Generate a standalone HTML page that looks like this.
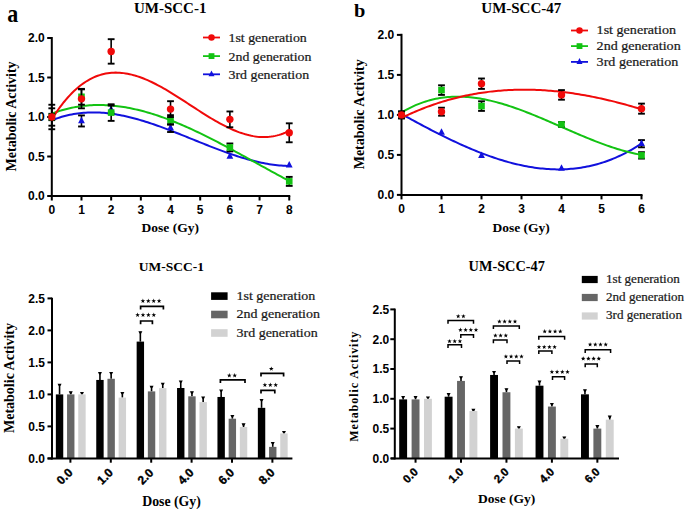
<!DOCTYPE html>
<html><head><meta charset="utf-8"><style>
html,body{margin:0;padding:0;background:#fff;}
svg{display:block;}
</style></head><body>
<svg width="685" height="511" viewBox="0 0 685 511">
<rect width="685" height="511" fill="#fff"/>
<line x1="51.80" y1="37.00" x2="51.80" y2="197.00" stroke="#000" stroke-width="2"/>
<line x1="50.80" y1="196.00" x2="290.24" y2="196.00" stroke="#000" stroke-width="2"/>
<line x1="47.20" y1="196.00" x2="51.80" y2="196.00" stroke="#000" stroke-width="2"/>
<text x="44.80" y="200.30" font-family="Liberation Sans" font-size="12" font-weight="bold" text-anchor="end" fill="#000" >0.0</text>
<line x1="47.20" y1="156.50" x2="51.80" y2="156.50" stroke="#000" stroke-width="2"/>
<text x="44.80" y="160.80" font-family="Liberation Sans" font-size="12" font-weight="bold" text-anchor="end" fill="#000" >0.5</text>
<line x1="47.20" y1="117.00" x2="51.80" y2="117.00" stroke="#000" stroke-width="2"/>
<text x="44.80" y="121.30" font-family="Liberation Sans" font-size="12" font-weight="bold" text-anchor="end" fill="#000" >1.0</text>
<line x1="47.20" y1="77.50" x2="51.80" y2="77.50" stroke="#000" stroke-width="2"/>
<text x="44.80" y="81.80" font-family="Liberation Sans" font-size="12" font-weight="bold" text-anchor="end" fill="#000" >1.5</text>
<line x1="47.20" y1="38.00" x2="51.80" y2="38.00" stroke="#000" stroke-width="2"/>
<text x="44.80" y="42.30" font-family="Liberation Sans" font-size="12" font-weight="bold" text-anchor="end" fill="#000" >2.0</text>
<line x1="51.80" y1="196.00" x2="51.80" y2="200.50" stroke="#000" stroke-width="2"/>
<text x="51.80" y="213.60" font-family="Liberation Sans" font-size="12" font-weight="bold" text-anchor="middle" fill="#000" >0</text>
<line x1="81.48" y1="196.00" x2="81.48" y2="200.50" stroke="#000" stroke-width="2"/>
<text x="81.48" y="213.60" font-family="Liberation Sans" font-size="12" font-weight="bold" text-anchor="middle" fill="#000" >1</text>
<line x1="111.16" y1="196.00" x2="111.16" y2="200.50" stroke="#000" stroke-width="2"/>
<text x="111.16" y="213.60" font-family="Liberation Sans" font-size="12" font-weight="bold" text-anchor="middle" fill="#000" >2</text>
<line x1="140.84" y1="196.00" x2="140.84" y2="200.50" stroke="#000" stroke-width="2"/>
<text x="140.84" y="213.60" font-family="Liberation Sans" font-size="12" font-weight="bold" text-anchor="middle" fill="#000" >3</text>
<line x1="170.52" y1="196.00" x2="170.52" y2="200.50" stroke="#000" stroke-width="2"/>
<text x="170.52" y="213.60" font-family="Liberation Sans" font-size="12" font-weight="bold" text-anchor="middle" fill="#000" >4</text>
<line x1="200.20" y1="196.00" x2="200.20" y2="200.50" stroke="#000" stroke-width="2"/>
<text x="200.20" y="213.60" font-family="Liberation Sans" font-size="12" font-weight="bold" text-anchor="middle" fill="#000" >5</text>
<line x1="229.88" y1="196.00" x2="229.88" y2="200.50" stroke="#000" stroke-width="2"/>
<text x="229.88" y="213.60" font-family="Liberation Sans" font-size="12" font-weight="bold" text-anchor="middle" fill="#000" >6</text>
<line x1="259.56" y1="196.00" x2="259.56" y2="200.50" stroke="#000" stroke-width="2"/>
<text x="259.56" y="213.60" font-family="Liberation Sans" font-size="12" font-weight="bold" text-anchor="middle" fill="#000" >7</text>
<line x1="289.24" y1="196.00" x2="289.24" y2="200.50" stroke="#000" stroke-width="2"/>
<text x="289.24" y="213.60" font-family="Liberation Sans" font-size="12" font-weight="bold" text-anchor="middle" fill="#000" >8</text>
<polyline points="51.80,120.32 53.80,119.53 55.79,118.79 57.79,118.09 59.78,117.43 61.78,116.82 63.77,116.25 65.77,115.73 67.76,115.24 69.76,114.80 71.75,114.40 73.75,114.03 75.74,113.71 77.74,113.42 79.73,113.17 81.73,112.95 83.72,112.78 85.72,112.64 87.72,112.53 89.71,112.46 91.71,112.42 93.70,112.41 95.70,112.44 97.69,112.50 99.69,112.59 101.68,112.71 103.68,112.85 105.67,113.03 107.67,113.24 109.66,113.47 111.66,113.73 113.65,114.02 115.65,114.33 117.64,114.67 119.64,115.04 121.64,115.42 123.63,115.83 125.63,116.26 127.62,116.72 129.62,117.19 131.61,117.69 133.61,118.20 135.60,118.74 137.60,119.29 139.59,119.86 141.59,120.45 143.58,121.06 145.58,121.68 147.57,122.31 149.57,122.97 151.56,123.63 153.56,124.31 155.56,125.00 157.55,125.70 159.55,126.42 161.54,127.14 163.54,127.88 165.53,128.62 167.53,129.38 169.52,130.14 171.52,130.91 173.51,131.68 175.51,132.46 177.50,133.25 179.50,134.04 181.49,134.84 183.49,135.64 185.48,136.44 187.48,137.25 189.48,138.06 191.47,138.86 193.47,139.67 195.46,140.48 197.46,141.29 199.45,142.09 201.45,142.89 203.44,143.69 205.44,144.49 207.43,145.28 209.43,146.07 211.42,146.85 213.42,147.63 215.41,148.39 217.41,149.15 219.40,149.91 221.40,150.65 223.40,151.38 225.39,152.11 227.39,152.82 229.38,153.52 231.38,154.21 233.37,154.89 235.37,155.55 237.36,156.20 239.36,156.84 241.35,157.46 243.35,158.06 245.34,158.65 247.34,159.22 249.33,159.77 251.33,160.30 253.32,160.81 255.32,161.31 257.32,161.78 259.31,162.23 261.31,162.66 263.30,163.07 265.30,163.45 267.29,163.81 269.29,164.15 271.28,164.46 273.28,164.74 275.27,165.00 277.27,165.23 279.26,165.44 281.26,165.61 283.25,165.76 285.25,165.87 287.24,165.96 289.24,166.02" fill="none" stroke="#1111dd" stroke-width="2"/>
<polyline points="51.80,113.65 53.80,112.90 55.79,112.19 57.79,111.52 59.78,110.88 61.78,110.28 63.77,109.71 65.77,109.18 67.76,108.68 69.76,108.21 71.75,107.78 73.75,107.38 75.74,107.01 77.74,106.68 79.73,106.37 81.73,106.10 83.72,105.86 85.72,105.65 87.72,105.47 89.71,105.32 91.71,105.20 93.70,105.11 95.70,105.05 97.69,105.02 99.69,105.01 101.68,105.04 103.68,105.09 105.67,105.17 107.67,105.27 109.66,105.40 111.66,105.56 113.65,105.74 115.65,105.95 117.64,106.18 119.64,106.44 121.64,106.73 123.63,107.03 125.63,107.36 127.62,107.72 129.62,108.09 131.61,108.49 133.61,108.91 135.60,109.36 137.60,109.82 139.59,110.31 141.59,110.81 143.58,111.34 145.58,111.89 147.57,112.45 149.57,113.04 151.56,113.65 153.56,114.27 155.56,114.91 157.55,115.57 159.55,116.25 161.54,116.94 163.54,117.66 165.53,118.38 167.53,119.13 169.52,119.89 171.52,120.66 173.51,121.46 175.51,122.26 177.50,123.08 179.50,123.91 181.49,124.76 183.49,125.62 185.48,126.50 187.48,127.38 189.48,128.28 191.47,129.19 193.47,130.11 195.46,131.05 197.46,131.99 199.45,132.95 201.45,133.91 203.44,134.89 205.44,135.87 207.43,136.86 209.43,137.86 211.42,138.87 213.42,139.89 215.41,140.92 217.41,141.95 219.40,142.99 221.40,144.03 223.40,145.09 225.39,146.15 227.39,147.21 229.38,148.28 231.38,149.35 233.37,150.43 235.37,151.51 237.36,152.60 239.36,153.69 241.35,154.78 243.35,155.87 245.34,156.97 247.34,158.07 249.33,159.17 251.33,160.27 253.32,161.37 255.32,162.48 257.32,163.58 259.31,164.68 261.31,165.78 263.30,166.88 265.30,167.99 267.29,169.08 269.29,170.18 271.28,171.27 273.28,172.37 275.27,173.45 277.27,174.54 279.26,175.62 281.26,176.70 283.25,177.77 285.25,178.84 287.24,179.90 289.24,180.96" fill="none" stroke="#13c313" stroke-width="2"/>
<polyline points="51.80,119.38 53.80,116.20 55.79,113.16 57.79,110.25 59.78,107.46 61.78,104.79 63.77,102.25 65.77,99.83 67.76,97.52 69.76,95.33 71.75,93.25 73.75,91.29 75.74,89.44 77.74,87.69 79.73,86.05 81.73,84.52 83.72,83.09 85.72,81.76 87.72,80.53 89.71,79.39 91.71,78.35 93.70,77.41 95.70,76.55 97.69,75.79 99.69,75.11 101.68,74.52 103.68,74.01 105.67,73.59 107.67,73.24 109.66,72.97 111.66,72.78 113.65,72.66 115.65,72.62 117.64,72.64 119.64,72.74 121.64,72.90 123.63,73.12 125.63,73.41 127.62,73.76 129.62,74.17 131.61,74.64 133.61,75.16 135.60,75.73 137.60,76.36 139.59,77.04 141.59,77.76 143.58,78.53 145.58,79.35 147.57,80.20 149.57,81.10 151.56,82.03 153.56,83.00 155.56,84.01 157.55,85.05 159.55,86.12 161.54,87.21 163.54,88.34 165.53,89.49 167.53,90.66 169.52,91.86 171.52,93.07 173.51,94.30 175.51,95.55 177.50,96.81 179.50,98.08 181.49,99.36 183.49,100.65 185.48,101.95 187.48,103.25 189.48,104.55 191.47,105.85 193.47,107.16 195.46,108.45 197.46,109.75 199.45,111.03 201.45,112.31 203.44,113.57 205.44,114.83 207.43,116.07 209.43,117.29 211.42,118.49 213.42,119.67 215.41,120.83 217.41,121.97 219.40,123.08 221.40,124.16 223.40,125.21 225.39,126.23 227.39,127.22 229.38,128.17 231.38,129.09 233.37,129.96 235.37,130.79 237.36,131.58 239.36,132.33 241.35,133.02 243.35,133.67 245.34,134.27 247.34,134.82 249.33,135.31 251.33,135.74 253.32,136.12 255.32,136.44 257.32,136.69 259.31,136.88 261.31,137.00 263.30,137.06 265.30,137.05 267.29,136.96 269.29,136.80 271.28,136.57 273.28,136.26 275.27,135.87 277.27,135.40 279.26,134.84 281.26,134.20 283.25,133.48 285.25,132.66 287.24,131.76 289.24,130.76" fill="none" stroke="#f00a0a" stroke-width="2"/>
<line x1="51.80" y1="113.84" x2="51.80" y2="120.16" stroke="#000" stroke-width="1.6"/>
<line x1="48.40" y1="113.84" x2="55.20" y2="113.84" stroke="#000" stroke-width="1.9"/>
<line x1="48.40" y1="120.16" x2="55.20" y2="120.16" stroke="#000" stroke-width="1.9"/>
<line x1="81.48" y1="115.42" x2="81.48" y2="126.48" stroke="#000" stroke-width="1.6"/>
<line x1="78.08" y1="115.42" x2="84.88" y2="115.42" stroke="#000" stroke-width="1.9"/>
<line x1="78.08" y1="126.48" x2="84.88" y2="126.48" stroke="#000" stroke-width="1.9"/>
<line x1="111.16" y1="105.55" x2="111.16" y2="113.45" stroke="#000" stroke-width="1.6"/>
<line x1="107.76" y1="105.55" x2="114.56" y2="105.55" stroke="#000" stroke-width="1.9"/>
<line x1="107.76" y1="113.45" x2="114.56" y2="113.45" stroke="#000" stroke-width="1.9"/>
<line x1="170.52" y1="124.11" x2="170.52" y2="132.01" stroke="#000" stroke-width="1.6"/>
<line x1="167.12" y1="124.11" x2="173.92" y2="124.11" stroke="#000" stroke-width="1.9"/>
<line x1="167.12" y1="132.01" x2="173.92" y2="132.01" stroke="#000" stroke-width="1.9"/>
<polygon points="51.80,112.70 55.20,119.30 48.40,119.30" fill="#1111dd"/>
<polygon points="81.48,116.65 84.88,123.25 78.08,123.25" fill="#1111dd"/>
<polygon points="111.16,105.20 114.56,111.80 107.76,111.80" fill="#1111dd"/>
<polygon points="170.52,123.76 173.92,130.36 167.12,130.36" fill="#1111dd"/>
<polygon points="229.88,152.20 233.28,158.80 226.48,158.80" fill="#1111dd"/>
<polygon points="289.24,160.89 292.64,167.49 285.84,167.49" fill="#1111dd"/>
<line x1="51.80" y1="108.31" x2="51.80" y2="125.69" stroke="#000" stroke-width="1.6"/>
<line x1="48.40" y1="108.31" x2="55.20" y2="108.31" stroke="#000" stroke-width="1.9"/>
<line x1="48.40" y1="125.69" x2="55.20" y2="125.69" stroke="#000" stroke-width="1.9"/>
<line x1="81.48" y1="88.88" x2="81.48" y2="104.68" stroke="#000" stroke-width="1.6"/>
<line x1="78.08" y1="88.88" x2="84.88" y2="88.88" stroke="#000" stroke-width="1.9"/>
<line x1="78.08" y1="104.68" x2="84.88" y2="104.68" stroke="#000" stroke-width="1.9"/>
<line x1="111.16" y1="104.28" x2="111.16" y2="120.87" stroke="#000" stroke-width="1.6"/>
<line x1="107.76" y1="104.28" x2="114.56" y2="104.28" stroke="#000" stroke-width="1.9"/>
<line x1="107.76" y1="120.87" x2="114.56" y2="120.87" stroke="#000" stroke-width="1.9"/>
<line x1="170.52" y1="115.18" x2="170.52" y2="124.66" stroke="#000" stroke-width="1.6"/>
<line x1="167.12" y1="115.18" x2="173.92" y2="115.18" stroke="#000" stroke-width="1.9"/>
<line x1="167.12" y1="124.66" x2="173.92" y2="124.66" stroke="#000" stroke-width="1.9"/>
<line x1="229.88" y1="143.47" x2="229.88" y2="151.37" stroke="#000" stroke-width="1.6"/>
<line x1="226.48" y1="143.47" x2="233.28" y2="143.47" stroke="#000" stroke-width="1.9"/>
<line x1="226.48" y1="151.37" x2="233.28" y2="151.37" stroke="#000" stroke-width="1.9"/>
<line x1="289.24" y1="176.88" x2="289.24" y2="185.89" stroke="#000" stroke-width="1.6"/>
<line x1="285.84" y1="176.88" x2="292.64" y2="176.88" stroke="#000" stroke-width="1.9"/>
<line x1="285.84" y1="185.89" x2="292.64" y2="185.89" stroke="#000" stroke-width="1.9"/>
<rect x="48.50" y="113.70" width="6.60" height="6.60" fill="#13c313"/>
<rect x="78.18" y="93.48" width="6.60" height="6.60" fill="#13c313"/>
<rect x="107.86" y="109.28" width="6.60" height="6.60" fill="#13c313"/>
<rect x="167.22" y="116.62" width="6.60" height="6.60" fill="#13c313"/>
<rect x="226.58" y="144.11" width="6.60" height="6.60" fill="#13c313"/>
<rect x="285.94" y="178.08" width="6.60" height="6.60" fill="#13c313"/>
<line x1="51.80" y1="104.75" x2="51.80" y2="129.25" stroke="#000" stroke-width="1.6"/>
<line x1="48.40" y1="104.75" x2="55.20" y2="104.75" stroke="#000" stroke-width="1.9"/>
<line x1="48.40" y1="129.25" x2="55.20" y2="129.25" stroke="#000" stroke-width="1.9"/>
<line x1="81.48" y1="89.35" x2="81.48" y2="108.31" stroke="#000" stroke-width="1.6"/>
<line x1="78.08" y1="89.35" x2="84.88" y2="89.35" stroke="#000" stroke-width="1.9"/>
<line x1="78.08" y1="108.31" x2="84.88" y2="108.31" stroke="#000" stroke-width="1.9"/>
<line x1="111.16" y1="39.19" x2="111.16" y2="63.67" stroke="#000" stroke-width="1.6"/>
<line x1="107.76" y1="39.19" x2="114.56" y2="39.19" stroke="#000" stroke-width="1.9"/>
<line x1="107.76" y1="63.67" x2="114.56" y2="63.67" stroke="#000" stroke-width="1.9"/>
<line x1="170.52" y1="101.20" x2="170.52" y2="117.00" stroke="#000" stroke-width="1.6"/>
<line x1="167.12" y1="101.20" x2="173.92" y2="101.20" stroke="#000" stroke-width="1.9"/>
<line x1="167.12" y1="117.00" x2="173.92" y2="117.00" stroke="#000" stroke-width="1.9"/>
<line x1="229.88" y1="111.47" x2="229.88" y2="127.27" stroke="#000" stroke-width="1.6"/>
<line x1="226.48" y1="111.47" x2="233.28" y2="111.47" stroke="#000" stroke-width="1.9"/>
<line x1="226.48" y1="127.27" x2="233.28" y2="127.27" stroke="#000" stroke-width="1.9"/>
<line x1="289.24" y1="123.32" x2="289.24" y2="142.28" stroke="#000" stroke-width="1.6"/>
<line x1="285.84" y1="123.32" x2="292.64" y2="123.32" stroke="#000" stroke-width="1.9"/>
<line x1="285.84" y1="142.28" x2="292.64" y2="142.28" stroke="#000" stroke-width="1.9"/>
<circle cx="51.80" cy="117.00" r="3.70" fill="#f00a0a"/>
<circle cx="81.48" cy="98.83" r="3.70" fill="#f00a0a"/>
<circle cx="111.16" cy="51.43" r="3.70" fill="#f00a0a"/>
<circle cx="170.52" cy="109.10" r="3.70" fill="#f00a0a"/>
<circle cx="229.88" cy="119.37" r="3.70" fill="#f00a0a"/>
<circle cx="289.24" cy="132.80" r="3.70" fill="#f00a0a"/>
<line x1="203.00" y1="37.50" x2="220.00" y2="37.50" stroke="#f00a0a" stroke-width="1.8"/>
<circle cx="211.50" cy="37.50" r="3.26" fill="#f00a0a"/>
<text x="0.00" y="0.00" font-family="Liberation Serif" font-size="13.9" font-weight="normal" text-anchor="start" fill="#1a1a1a" stroke="#1a1a1a" stroke-width="0.25" transform="translate(228.50 41.80) scale(1 0.92)">1st generation</text>
<line x1="203.00" y1="56.10" x2="220.00" y2="56.10" stroke="#13c313" stroke-width="1.8"/>
<rect x="208.60" y="53.20" width="5.81" height="5.81" fill="#13c313"/>
<text x="0.00" y="0.00" font-family="Liberation Serif" font-size="13.9" font-weight="normal" text-anchor="start" fill="#1a1a1a" stroke="#1a1a1a" stroke-width="0.25" transform="translate(228.50 60.50) scale(1 0.92)">2nd generation</text>
<line x1="203.00" y1="74.30" x2="220.00" y2="74.30" stroke="#1111dd" stroke-width="1.8"/>
<polygon points="211.50,70.52 214.49,76.32 208.51,76.32" fill="#1111dd"/>
<text x="0.00" y="0.00" font-family="Liberation Serif" font-size="13.9" font-weight="normal" text-anchor="start" fill="#1a1a1a" stroke="#1a1a1a" stroke-width="0.25" transform="translate(228.50 78.90) scale(1 0.92)">3rd generation</text>
<text x="170.20" y="12.80" font-family="Liberation Serif" font-size="15" font-weight="bold" text-anchor="middle" fill="#000" >UM-SCC-1</text>
<text x="0.00" y="0.00" font-family="Liberation Serif" font-size="25" font-weight="bold" text-anchor="start" fill="#000" transform="translate(7.3 21.5) scale(0.88 1)">a</text>
<text x="16.00" y="116.40" font-family="Liberation Serif" font-size="13.8" font-weight="bold" text-anchor="middle" fill="#000" transform="rotate(-90 16.00 116.40)" textLength="110" lengthAdjust="spacingAndGlyphs">Metabolic Activity</text>
<text x="170.30" y="232.10" font-family="Liberation Serif" font-size="13.5" font-weight="bold" text-anchor="middle" fill="#000" >Dose (Gy)</text>
<line x1="401.50" y1="33.80" x2="401.50" y2="195.90" stroke="#000" stroke-width="2"/>
<line x1="400.50" y1="194.90" x2="642.50" y2="194.90" stroke="#000" stroke-width="2"/>
<line x1="396.90" y1="194.90" x2="401.50" y2="194.90" stroke="#000" stroke-width="2"/>
<text x="394.30" y="199.20" font-family="Liberation Sans" font-size="12" font-weight="bold" text-anchor="end" fill="#000" >0.0</text>
<line x1="396.90" y1="154.90" x2="401.50" y2="154.90" stroke="#000" stroke-width="2"/>
<text x="394.30" y="159.20" font-family="Liberation Sans" font-size="12" font-weight="bold" text-anchor="end" fill="#000" >0.5</text>
<line x1="396.90" y1="114.90" x2="401.50" y2="114.90" stroke="#000" stroke-width="2"/>
<text x="394.30" y="119.20" font-family="Liberation Sans" font-size="12" font-weight="bold" text-anchor="end" fill="#000" >1.0</text>
<line x1="396.90" y1="74.90" x2="401.50" y2="74.90" stroke="#000" stroke-width="2"/>
<text x="394.30" y="79.20" font-family="Liberation Sans" font-size="12" font-weight="bold" text-anchor="end" fill="#000" >1.5</text>
<line x1="396.90" y1="34.90" x2="401.50" y2="34.90" stroke="#000" stroke-width="2"/>
<text x="394.30" y="39.20" font-family="Liberation Sans" font-size="12" font-weight="bold" text-anchor="end" fill="#000" >2.0</text>
<line x1="401.50" y1="194.90" x2="401.50" y2="199.40" stroke="#000" stroke-width="2"/>
<text x="401.50" y="212.50" font-family="Liberation Sans" font-size="12" font-weight="bold" text-anchor="middle" fill="#000" >0</text>
<line x1="441.50" y1="194.90" x2="441.50" y2="199.40" stroke="#000" stroke-width="2"/>
<text x="441.50" y="212.50" font-family="Liberation Sans" font-size="12" font-weight="bold" text-anchor="middle" fill="#000" >1</text>
<line x1="481.50" y1="194.90" x2="481.50" y2="199.40" stroke="#000" stroke-width="2"/>
<text x="481.50" y="212.50" font-family="Liberation Sans" font-size="12" font-weight="bold" text-anchor="middle" fill="#000" >2</text>
<line x1="521.50" y1="194.90" x2="521.50" y2="199.40" stroke="#000" stroke-width="2"/>
<text x="521.50" y="212.50" font-family="Liberation Sans" font-size="12" font-weight="bold" text-anchor="middle" fill="#000" >3</text>
<line x1="561.50" y1="194.90" x2="561.50" y2="199.40" stroke="#000" stroke-width="2"/>
<text x="561.50" y="212.50" font-family="Liberation Sans" font-size="12" font-weight="bold" text-anchor="middle" fill="#000" >4</text>
<line x1="601.50" y1="194.90" x2="601.50" y2="199.40" stroke="#000" stroke-width="2"/>
<text x="601.50" y="212.50" font-family="Liberation Sans" font-size="12" font-weight="bold" text-anchor="middle" fill="#000" >5</text>
<line x1="641.50" y1="194.90" x2="641.50" y2="199.40" stroke="#000" stroke-width="2"/>
<text x="641.50" y="212.50" font-family="Liberation Sans" font-size="12" font-weight="bold" text-anchor="middle" fill="#000" >6</text>
<polyline points="401.50,114.04 403.52,115.15 405.53,116.26 407.55,117.37 409.57,118.47 411.58,119.57 413.60,120.66 415.62,121.75 417.63,122.84 419.65,123.92 421.67,125.00 423.68,126.07 425.70,127.13 427.72,128.19 429.74,129.24 431.75,130.29 433.77,131.33 435.79,132.36 437.80,133.39 439.82,134.40 441.84,135.41 443.85,136.41 445.87,137.40 447.89,138.38 449.90,139.36 451.92,140.32 453.94,141.27 455.95,142.21 457.97,143.15 459.99,144.07 462.00,144.98 464.02,145.87 466.04,146.76 468.05,147.63 470.07,148.50 472.09,149.35 474.11,150.18 476.12,151.00 478.14,151.81 480.16,152.61 482.17,153.39 484.19,154.15 486.21,154.90 488.22,155.64 490.24,156.36 492.26,157.06 494.27,157.75 496.29,158.42 498.31,159.08 500.32,159.71 502.34,160.33 504.36,160.94 506.37,161.52 508.39,162.09 510.41,162.64 512.42,163.16 514.44,163.67 516.46,164.16 518.47,164.63 520.49,165.08 522.51,165.51 524.53,165.92 526.54,166.31 528.56,166.67 530.58,167.02 532.59,167.34 534.61,167.64 536.63,167.92 538.64,168.17 540.66,168.40 542.68,168.61 544.69,168.79 546.71,168.95 548.73,169.09 550.74,169.20 552.76,169.29 554.78,169.34 556.79,169.38 558.81,169.39 560.83,169.37 562.84,169.32 564.86,169.25 566.88,169.15 568.89,169.03 570.91,168.87 572.93,168.69 574.95,168.48 576.96,168.24 578.98,167.97 581.00,167.67 583.01,167.34 585.03,166.99 587.05,166.60 589.06,166.18 591.08,165.73 593.10,165.25 595.11,164.74 597.13,164.19 599.15,163.61 601.16,163.00 603.18,162.36 605.20,161.69 607.21,160.98 609.23,160.24 611.25,159.46 613.26,158.65 615.28,157.81 617.30,156.93 619.32,156.01 621.33,155.06 623.35,154.07 625.37,153.05 627.38,151.99 629.40,150.89 631.42,149.76 633.43,148.59 635.45,147.38 637.47,146.14 639.48,144.85 641.50,143.53" fill="none" stroke="#1111dd" stroke-width="2"/>
<polyline points="401.50,112.48 403.52,111.29 405.53,110.15 407.55,109.06 409.57,108.02 411.58,107.03 413.60,106.09 415.62,105.20 417.63,104.36 419.65,103.56 421.67,102.82 423.68,102.12 425.70,101.46 427.72,100.85 429.74,100.29 431.75,99.76 433.77,99.29 435.79,98.85 437.80,98.46 439.82,98.10 441.84,97.79 443.85,97.51 445.87,97.28 447.89,97.08 449.90,96.93 451.92,96.80 453.94,96.72 455.95,96.67 457.97,96.66 459.99,96.67 462.00,96.73 464.02,96.81 466.04,96.93 468.05,97.08 470.07,97.27 472.09,97.48 474.11,97.72 476.12,97.99 478.14,98.29 480.16,98.61 482.17,98.97 484.19,99.35 486.21,99.75 488.22,100.18 490.24,100.64 492.26,101.11 494.27,101.61 496.29,102.14 498.31,102.68 500.32,103.25 502.34,103.83 504.36,104.44 506.37,105.06 508.39,105.71 510.41,106.37 512.42,107.04 514.44,107.74 516.46,108.45 518.47,109.17 520.49,109.91 522.51,110.66 524.53,111.42 526.54,112.20 528.56,112.99 530.58,113.79 532.59,114.60 534.61,115.42 536.63,116.24 538.64,117.08 540.66,117.92 542.68,118.77 544.69,119.63 546.71,120.49 548.73,121.36 550.74,122.23 552.76,123.10 554.78,123.98 556.79,124.86 558.81,125.74 560.83,126.62 562.84,127.51 564.86,128.39 566.88,129.27 568.89,130.15 570.91,131.02 572.93,131.90 574.95,132.76 576.96,133.63 578.98,134.49 581.00,135.34 583.01,136.19 585.03,137.03 587.05,137.86 589.06,138.68 591.08,139.50 593.10,140.30 595.11,141.10 597.13,141.88 599.15,142.65 601.16,143.41 603.18,144.15 605.20,144.88 607.21,145.60 609.23,146.30 611.25,146.98 613.26,147.65 615.28,148.30 617.30,148.94 619.32,149.55 621.33,150.15 623.35,150.72 625.37,151.28 627.38,151.81 629.40,152.32 631.42,152.81 633.43,153.28 635.45,153.72 637.47,154.14 639.48,154.53 641.50,154.90" fill="none" stroke="#13c313" stroke-width="2"/>
<polyline points="401.50,117.94 403.52,116.96 405.53,116.00 407.55,115.06 409.57,114.14 411.58,113.24 413.60,112.35 415.62,111.49 417.63,110.64 419.65,109.81 421.67,109.00 423.68,108.21 425.70,107.43 427.72,106.68 429.74,105.94 431.75,105.22 433.77,104.52 435.79,103.83 437.80,103.16 439.82,102.51 441.84,101.88 443.85,101.26 445.87,100.67 447.89,100.08 449.90,99.52 451.92,98.97 453.94,98.44 455.95,97.93 457.97,97.43 459.99,96.95 462.00,96.48 464.02,96.03 466.04,95.60 468.05,95.18 470.07,94.78 472.09,94.40 474.11,94.03 476.12,93.67 478.14,93.34 480.16,93.01 482.17,92.71 484.19,92.42 486.21,92.14 488.22,91.88 490.24,91.63 492.26,91.40 494.27,91.19 496.29,90.99 498.31,90.80 500.32,90.63 502.34,90.47 504.36,90.33 506.37,90.20 508.39,90.08 510.41,89.98 512.42,89.90 514.44,89.82 516.46,89.76 518.47,89.72 520.49,89.69 522.51,89.67 524.53,89.67 526.54,89.68 528.56,89.70 530.58,89.73 532.59,89.78 534.61,89.84 536.63,89.92 538.64,90.01 540.66,90.11 542.68,90.22 544.69,90.34 546.71,90.48 548.73,90.63 550.74,90.79 552.76,90.97 554.78,91.16 556.79,91.35 558.81,91.56 560.83,91.79 562.84,92.02 564.86,92.27 566.88,92.52 568.89,92.79 570.91,93.07 572.93,93.36 574.95,93.66 576.96,93.98 578.98,94.30 581.00,94.64 583.01,94.98 585.03,95.34 587.05,95.71 589.06,96.08 591.08,96.47 593.10,96.87 595.11,97.28 597.13,97.70 599.15,98.12 601.16,98.56 603.18,99.01 605.20,99.47 607.21,99.94 609.23,100.41 611.25,100.90 613.26,101.40 615.28,101.90 617.30,102.42 619.32,102.94 621.33,103.47 623.35,104.01 625.37,104.56 627.38,105.12 629.40,105.69 631.42,106.26 633.43,106.85 635.45,107.44 637.47,108.04 639.48,108.65 641.50,109.27" fill="none" stroke="#f00a0a" stroke-width="2"/>
<line x1="641.50" y1="140.10" x2="641.50" y2="147.30" stroke="#000" stroke-width="1.6"/>
<line x1="638.10" y1="140.10" x2="644.90" y2="140.10" stroke="#000" stroke-width="1.9"/>
<line x1="638.10" y1="147.30" x2="644.90" y2="147.30" stroke="#000" stroke-width="1.9"/>
<polygon points="401.50,110.60 404.90,117.20 398.10,117.20" fill="#1111dd"/>
<polygon points="441.50,128.20 444.90,134.80 438.10,134.80" fill="#1111dd"/>
<polygon points="481.50,151.40 484.90,158.00 478.10,158.00" fill="#1111dd"/>
<polygon points="561.50,164.20 564.90,170.80 558.10,170.80" fill="#1111dd"/>
<polygon points="641.50,139.40 644.90,146.00 638.10,146.00" fill="#1111dd"/>
<line x1="401.50" y1="111.70" x2="401.50" y2="118.10" stroke="#000" stroke-width="1.6"/>
<line x1="398.10" y1="111.70" x2="404.90" y2="111.70" stroke="#000" stroke-width="1.9"/>
<line x1="398.10" y1="118.10" x2="404.90" y2="118.10" stroke="#000" stroke-width="1.9"/>
<line x1="441.50" y1="85.30" x2="441.50" y2="94.90" stroke="#000" stroke-width="1.6"/>
<line x1="438.10" y1="85.30" x2="444.90" y2="85.30" stroke="#000" stroke-width="1.9"/>
<line x1="438.10" y1="94.90" x2="444.90" y2="94.90" stroke="#000" stroke-width="1.9"/>
<line x1="481.50" y1="101.30" x2="481.50" y2="110.90" stroke="#000" stroke-width="1.6"/>
<line x1="478.10" y1="101.30" x2="484.90" y2="101.30" stroke="#000" stroke-width="1.9"/>
<line x1="478.10" y1="110.90" x2="484.90" y2="110.90" stroke="#000" stroke-width="1.9"/>
<line x1="561.50" y1="122.10" x2="561.50" y2="126.90" stroke="#000" stroke-width="1.6"/>
<line x1="558.10" y1="122.10" x2="564.90" y2="122.10" stroke="#000" stroke-width="1.9"/>
<line x1="558.10" y1="126.90" x2="564.90" y2="126.90" stroke="#000" stroke-width="1.9"/>
<line x1="641.50" y1="152.18" x2="641.50" y2="158.58" stroke="#000" stroke-width="1.6"/>
<line x1="638.10" y1="152.18" x2="644.90" y2="152.18" stroke="#000" stroke-width="1.9"/>
<line x1="638.10" y1="158.58" x2="644.90" y2="158.58" stroke="#000" stroke-width="1.9"/>
<rect x="398.20" y="111.60" width="6.60" height="6.60" fill="#13c313"/>
<rect x="438.20" y="86.80" width="6.60" height="6.60" fill="#13c313"/>
<rect x="478.20" y="102.80" width="6.60" height="6.60" fill="#13c313"/>
<rect x="558.20" y="121.20" width="6.60" height="6.60" fill="#13c313"/>
<rect x="638.20" y="152.08" width="6.60" height="6.60" fill="#13c313"/>
<line x1="401.50" y1="111.30" x2="401.50" y2="118.50" stroke="#000" stroke-width="1.6"/>
<line x1="398.10" y1="111.30" x2="404.90" y2="111.30" stroke="#000" stroke-width="1.9"/>
<line x1="398.10" y1="118.50" x2="404.90" y2="118.50" stroke="#000" stroke-width="1.9"/>
<line x1="441.50" y1="107.70" x2="441.50" y2="115.70" stroke="#000" stroke-width="1.6"/>
<line x1="438.10" y1="107.70" x2="444.90" y2="107.70" stroke="#000" stroke-width="1.9"/>
<line x1="438.10" y1="115.70" x2="444.90" y2="115.70" stroke="#000" stroke-width="1.9"/>
<line x1="481.50" y1="78.50" x2="481.50" y2="88.90" stroke="#000" stroke-width="1.6"/>
<line x1="478.10" y1="78.50" x2="484.90" y2="78.50" stroke="#000" stroke-width="1.9"/>
<line x1="478.10" y1="88.90" x2="484.90" y2="88.90" stroke="#000" stroke-width="1.9"/>
<line x1="561.50" y1="90.10" x2="561.50" y2="99.70" stroke="#000" stroke-width="1.6"/>
<line x1="558.10" y1="90.10" x2="564.90" y2="90.10" stroke="#000" stroke-width="1.9"/>
<line x1="558.10" y1="99.70" x2="564.90" y2="99.70" stroke="#000" stroke-width="1.9"/>
<line x1="641.50" y1="103.62" x2="641.50" y2="113.70" stroke="#000" stroke-width="1.6"/>
<line x1="638.10" y1="103.62" x2="644.90" y2="103.62" stroke="#000" stroke-width="1.9"/>
<line x1="638.10" y1="113.70" x2="644.90" y2="113.70" stroke="#000" stroke-width="1.9"/>
<circle cx="401.50" cy="114.90" r="3.70" fill="#f00a0a"/>
<circle cx="441.50" cy="111.70" r="3.70" fill="#f00a0a"/>
<circle cx="481.50" cy="83.70" r="3.70" fill="#f00a0a"/>
<circle cx="561.50" cy="94.90" r="3.70" fill="#f00a0a"/>
<circle cx="641.50" cy="108.66" r="3.70" fill="#f00a0a"/>
<line x1="571.00" y1="30.50" x2="588.00" y2="30.50" stroke="#f00a0a" stroke-width="1.8"/>
<circle cx="579.50" cy="30.50" r="3.26" fill="#f00a0a"/>
<text x="0.00" y="0.00" font-family="Liberation Serif" font-size="14.1" font-weight="normal" text-anchor="start" fill="#1a1a1a" stroke="#1a1a1a" stroke-width="0.25" transform="translate(596.60 34.30) scale(1 0.92)">1st generation</text>
<line x1="571.00" y1="46.10" x2="588.00" y2="46.10" stroke="#13c313" stroke-width="1.8"/>
<rect x="576.60" y="43.20" width="5.81" height="5.81" fill="#13c313"/>
<text x="0.00" y="0.00" font-family="Liberation Serif" font-size="14.1" font-weight="normal" text-anchor="start" fill="#1a1a1a" stroke="#1a1a1a" stroke-width="0.25" transform="translate(596.60 50.10) scale(1 0.92)">2nd generation</text>
<line x1="571.00" y1="61.90" x2="588.00" y2="61.90" stroke="#1111dd" stroke-width="1.8"/>
<polygon points="579.50,58.12 582.49,63.92 576.51,63.92" fill="#1111dd"/>
<text x="0.00" y="0.00" font-family="Liberation Serif" font-size="14.1" font-weight="normal" text-anchor="start" fill="#1a1a1a" stroke="#1a1a1a" stroke-width="0.25" transform="translate(596.60 65.50) scale(1 0.92)">3rd generation</text>
<text x="521.30" y="13.20" font-family="Liberation Serif" font-size="15" font-weight="bold" text-anchor="middle" fill="#000" >UM-SCC-47</text>
<text x="0.00" y="0.00" font-family="Liberation Serif" font-size="18.2" font-weight="bold" text-anchor="start" fill="#000" transform="translate(353.9 17.0) scale(1.12 1)">b</text>
<text x="363.60" y="114.30" font-family="Liberation Serif" font-size="13.8" font-weight="bold" text-anchor="middle" fill="#000" transform="rotate(-90 363.60 114.30)" textLength="110" lengthAdjust="spacingAndGlyphs">Metabolic Activity</text>
<text x="521.10" y="231.80" font-family="Liberation Serif" font-size="13.5" font-weight="bold" text-anchor="middle" fill="#000" >Dose (Gy)</text>
<line x1="59.55" y1="384.16" x2="59.55" y2="394.40" stroke="#000" stroke-width="1.6"/>
<polygon points="57.55,383.66 61.55,383.66 60.35,385.96 58.75,385.96" fill="#000"/>
<rect x="55.85" y="394.40" width="7.40" height="64.00" fill="#000"/>
<line x1="70.75" y1="391.84" x2="70.75" y2="394.40" stroke="#000" stroke-width="1.6"/>
<polygon points="68.75,391.34 72.75,391.34 71.55,393.64 69.95,393.64" fill="#000"/>
<rect x="67.05" y="394.40" width="7.40" height="64.00" fill="#666"/>
<line x1="81.95" y1="392.48" x2="81.95" y2="394.40" stroke="#000" stroke-width="1.6"/>
<polygon points="79.95,391.98 83.95,391.98 82.75,394.28 81.15,394.28" fill="#000"/>
<rect x="78.25" y="394.40" width="7.40" height="64.00" fill="#d2d2d2"/>
<line x1="99.95" y1="372.58" x2="99.95" y2="379.94" stroke="#000" stroke-width="1.6"/>
<polygon points="97.95,372.08 101.95,372.08 100.75,374.38 99.15,374.38" fill="#000"/>
<rect x="96.25" y="379.94" width="7.40" height="78.46" fill="#000"/>
<line x1="111.15" y1="372.38" x2="111.15" y2="378.78" stroke="#000" stroke-width="1.6"/>
<polygon points="109.15,371.88 113.15,371.88 111.95,374.18 110.35,374.18" fill="#000"/>
<rect x="107.45" y="378.78" width="7.40" height="79.62" fill="#666"/>
<line x1="122.35" y1="392.48" x2="122.35" y2="397.60" stroke="#000" stroke-width="1.6"/>
<polygon points="120.35,391.98 124.35,391.98 123.15,394.28 121.55,394.28" fill="#000"/>
<rect x="118.65" y="397.60" width="7.40" height="60.80" fill="#d2d2d2"/>
<line x1="140.35" y1="331.68" x2="140.35" y2="341.60" stroke="#000" stroke-width="1.6"/>
<polygon points="138.35,331.18 142.35,331.18 141.15,333.48 139.55,333.48" fill="#000"/>
<rect x="136.65" y="341.60" width="7.40" height="116.80" fill="#000"/>
<line x1="151.55" y1="386.27" x2="151.55" y2="391.39" stroke="#000" stroke-width="1.6"/>
<polygon points="149.55,385.77 153.55,385.77 152.35,388.07 150.75,388.07" fill="#000"/>
<rect x="147.85" y="391.39" width="7.40" height="67.01" fill="#666"/>
<line x1="162.75" y1="383.20" x2="162.75" y2="388.13" stroke="#000" stroke-width="1.6"/>
<polygon points="160.75,382.70 164.75,382.70 163.55,385.00 161.95,385.00" fill="#000"/>
<rect x="159.05" y="388.13" width="7.40" height="70.27" fill="#d2d2d2"/>
<line x1="180.75" y1="380.96" x2="180.75" y2="388.00" stroke="#000" stroke-width="1.6"/>
<polygon points="178.75,380.46 182.75,380.46 181.55,382.76 179.95,382.76" fill="#000"/>
<rect x="177.05" y="388.00" width="7.40" height="70.40" fill="#000"/>
<line x1="191.95" y1="391.84" x2="191.95" y2="396.32" stroke="#000" stroke-width="1.6"/>
<polygon points="189.95,391.34 193.95,391.34 192.75,393.64 191.15,393.64" fill="#000"/>
<rect x="188.25" y="396.32" width="7.40" height="62.08" fill="#666"/>
<line x1="203.15" y1="396.96" x2="203.15" y2="402.08" stroke="#000" stroke-width="1.6"/>
<polygon points="201.15,396.46 205.15,396.46 203.95,398.76 202.35,398.76" fill="#000"/>
<rect x="199.45" y="402.08" width="7.40" height="56.32" fill="#d2d2d2"/>
<line x1="221.15" y1="389.92" x2="221.15" y2="396.96" stroke="#000" stroke-width="1.6"/>
<polygon points="219.15,389.42 223.15,389.42 221.95,391.72 220.35,391.72" fill="#000"/>
<rect x="217.45" y="396.96" width="7.40" height="61.44" fill="#000"/>
<line x1="232.35" y1="415.52" x2="232.35" y2="418.72" stroke="#000" stroke-width="1.6"/>
<polygon points="230.35,415.02 234.35,415.02 233.15,417.32 231.55,417.32" fill="#000"/>
<rect x="228.65" y="418.72" width="7.40" height="39.68" fill="#666"/>
<line x1="243.55" y1="423.84" x2="243.55" y2="427.04" stroke="#000" stroke-width="1.6"/>
<polygon points="241.55,423.34 245.55,423.34 244.35,425.64 242.75,425.64" fill="#000"/>
<rect x="239.85" y="427.04" width="7.40" height="31.36" fill="#d2d2d2"/>
<line x1="261.55" y1="399.52" x2="261.55" y2="407.84" stroke="#000" stroke-width="1.6"/>
<polygon points="259.55,399.02 263.55,399.02 262.35,401.32 260.75,401.32" fill="#000"/>
<rect x="257.85" y="407.84" width="7.40" height="50.56" fill="#000"/>
<line x1="272.75" y1="442.40" x2="272.75" y2="446.88" stroke="#000" stroke-width="1.6"/>
<polygon points="270.75,441.90 274.75,441.90 273.55,444.20 271.95,444.20" fill="#000"/>
<rect x="269.05" y="446.88" width="7.40" height="11.52" fill="#666"/>
<line x1="283.95" y1="431.52" x2="283.95" y2="433.44" stroke="#000" stroke-width="1.6"/>
<polygon points="281.95,431.02 285.95,431.02 284.75,433.32 283.15,433.32" fill="#000"/>
<rect x="280.25" y="433.44" width="7.40" height="24.96" fill="#d2d2d2"/>
<line x1="52.00" y1="297.80" x2="52.00" y2="459.40" stroke="#000" stroke-width="2"/>
<line x1="47.60" y1="458.40" x2="292.40" y2="458.40" stroke="#000" stroke-width="2"/>
<line x1="47.50" y1="458.40" x2="52.00" y2="458.40" stroke="#000" stroke-width="2"/>
<text x="44.90" y="462.70" font-family="Liberation Sans" font-size="12" font-weight="bold" text-anchor="end" fill="#000" >0.0</text>
<line x1="47.50" y1="426.40" x2="52.00" y2="426.40" stroke="#000" stroke-width="2"/>
<text x="44.90" y="430.70" font-family="Liberation Sans" font-size="12" font-weight="bold" text-anchor="end" fill="#000" >0.5</text>
<line x1="47.50" y1="394.40" x2="52.00" y2="394.40" stroke="#000" stroke-width="2"/>
<text x="44.90" y="398.70" font-family="Liberation Sans" font-size="12" font-weight="bold" text-anchor="end" fill="#000" >1.0</text>
<line x1="47.50" y1="362.40" x2="52.00" y2="362.40" stroke="#000" stroke-width="2"/>
<text x="44.90" y="366.70" font-family="Liberation Sans" font-size="12" font-weight="bold" text-anchor="end" fill="#000" >1.5</text>
<line x1="47.50" y1="330.40" x2="52.00" y2="330.40" stroke="#000" stroke-width="2"/>
<text x="44.90" y="334.70" font-family="Liberation Sans" font-size="12" font-weight="bold" text-anchor="end" fill="#000" >2.0</text>
<line x1="47.50" y1="298.40" x2="52.00" y2="298.40" stroke="#000" stroke-width="2"/>
<text x="44.90" y="302.70" font-family="Liberation Sans" font-size="12" font-weight="bold" text-anchor="end" fill="#000" >2.5</text>
<line x1="70.40" y1="458.40" x2="70.40" y2="462.70" stroke="#000" stroke-width="2"/>
<text x="73.40" y="473.40" font-family="Liberation Sans" font-size="12" font-weight="bold" text-anchor="end" fill="#000" stroke="#000" stroke-width="0.35" transform="rotate(-45 73.40 473.40)">0.0</text>
<line x1="110.80" y1="458.40" x2="110.80" y2="462.70" stroke="#000" stroke-width="2"/>
<text x="113.80" y="473.40" font-family="Liberation Sans" font-size="12" font-weight="bold" text-anchor="end" fill="#000" stroke="#000" stroke-width="0.35" transform="rotate(-45 113.80 473.40)">1.0</text>
<line x1="151.20" y1="458.40" x2="151.20" y2="462.70" stroke="#000" stroke-width="2"/>
<text x="154.20" y="473.40" font-family="Liberation Sans" font-size="12" font-weight="bold" text-anchor="end" fill="#000" stroke="#000" stroke-width="0.35" transform="rotate(-45 154.20 473.40)">2.0</text>
<line x1="191.60" y1="458.40" x2="191.60" y2="462.70" stroke="#000" stroke-width="2"/>
<text x="194.60" y="473.40" font-family="Liberation Sans" font-size="12" font-weight="bold" text-anchor="end" fill="#000" stroke="#000" stroke-width="0.35" transform="rotate(-45 194.60 473.40)">4.0</text>
<line x1="232.00" y1="458.40" x2="232.00" y2="462.70" stroke="#000" stroke-width="2"/>
<text x="235.00" y="473.40" font-family="Liberation Sans" font-size="12" font-weight="bold" text-anchor="end" fill="#000" stroke="#000" stroke-width="0.35" transform="rotate(-45 235.00 473.40)">6.0</text>
<line x1="272.40" y1="458.40" x2="272.40" y2="462.70" stroke="#000" stroke-width="2"/>
<text x="275.40" y="473.40" font-family="Liberation Sans" font-size="12" font-weight="bold" text-anchor="end" fill="#000" stroke="#000" stroke-width="0.35" transform="rotate(-45 275.40 473.40)">8.0</text>
<rect x="211.10" y="292.30" width="16.50" height="7.60" fill="#000"/>
<text x="0.00" y="0.00" font-family="Liberation Serif" font-size="14.0" font-weight="normal" text-anchor="start" fill="#1a1a1a" stroke="#1a1a1a" stroke-width="0.25" transform="translate(236.50 299.50) scale(1 0.92)">1st generation</text>
<rect x="211.10" y="310.70" width="16.50" height="7.60" fill="#666"/>
<text x="0.00" y="0.00" font-family="Liberation Serif" font-size="14.0" font-weight="normal" text-anchor="start" fill="#1a1a1a" stroke="#1a1a1a" stroke-width="0.25" transform="translate(236.50 317.80) scale(1 0.92)">2nd generation</text>
<rect x="211.10" y="329.20" width="16.50" height="7.60" fill="#d2d2d2"/>
<text x="0.00" y="0.00" font-family="Liberation Serif" font-size="14.0" font-weight="normal" text-anchor="start" fill="#1a1a1a" stroke="#1a1a1a" stroke-width="0.25" transform="translate(236.50 336.90) scale(1 0.92)">3rd generation</text>
<text x="171.30" y="270.70" font-family="Liberation Serif" font-size="13.5" font-weight="bold" text-anchor="middle" fill="#000" >UM-SCC-1</text>
<text x="14.40" y="378.00" font-family="Liberation Serif" font-size="13.8" font-weight="bold" text-anchor="middle" fill="#000" transform="rotate(-90 14.40 378.00)" textLength="110" lengthAdjust="spacingAndGlyphs">Metabolic Activity</text>
<text x="171.50" y="505.50" font-family="Liberation Serif" font-size="13.8" font-weight="bold" text-anchor="middle" fill="#000" >Dose (Gy)</text>
<path d="M140.60 324.20 V321.00 H152.40 V324.20" fill="none" stroke="#000" stroke-width="1.7"/>
<polygon points="137.60,312.60 138.19,314.24 139.93,314.29 138.55,315.36 139.04,317.03 137.60,316.05 136.16,317.03 136.65,315.36 135.27,314.29 137.01,314.24" fill="#000"/>
<polygon points="143.00,312.60 143.59,314.24 145.33,314.29 143.95,315.36 144.44,317.03 143.00,316.05 141.56,317.03 142.05,315.36 140.67,314.29 142.41,314.24" fill="#000"/>
<polygon points="148.40,312.60 148.99,314.24 150.73,314.29 149.35,315.36 149.84,317.03 148.40,316.05 146.96,317.03 147.45,315.36 146.07,314.29 147.81,314.24" fill="#000"/>
<polygon points="153.80,312.60 154.39,314.24 156.13,314.29 154.75,315.36 155.24,317.03 153.80,316.05 152.36,317.03 152.85,315.36 151.47,314.29 153.21,314.24" fill="#000"/>
<path d="M140.60 309.50 V306.30 H163.40 V309.50" fill="none" stroke="#000" stroke-width="1.7"/>
<polygon points="142.90,298.60 143.49,300.24 145.23,300.29 143.85,301.36 144.34,303.03 142.90,302.05 141.46,303.03 141.95,301.36 140.57,300.29 142.31,300.24" fill="#000"/>
<polygon points="148.30,298.60 148.89,300.24 150.63,300.29 149.25,301.36 149.74,303.03 148.30,302.05 146.86,303.03 147.35,301.36 145.97,300.29 147.71,300.24" fill="#000"/>
<polygon points="153.70,298.60 154.29,300.24 156.03,300.29 154.65,301.36 155.14,303.03 153.70,302.05 152.26,303.03 152.75,301.36 151.37,300.29 153.11,300.24" fill="#000"/>
<polygon points="159.10,298.60 159.69,300.24 161.43,300.29 160.05,301.36 160.54,303.03 159.10,302.05 157.66,303.03 158.15,301.36 156.77,300.29 158.51,300.24" fill="#000"/>
<path d="M220.40 383.00 V379.80 H245.00 V383.00" fill="none" stroke="#000" stroke-width="1.7"/>
<polygon points="229.30,373.00 229.89,374.64 231.63,374.69 230.25,375.76 230.74,377.43 229.30,376.45 227.86,377.43 228.35,375.76 226.97,374.69 228.71,374.64" fill="#000"/>
<polygon points="234.70,373.00 235.29,374.64 237.03,374.69 235.65,375.76 236.14,377.43 234.70,376.45 233.26,377.43 233.75,375.76 232.37,374.69 234.11,374.64" fill="#000"/>
<path d="M261.00 393.50 V390.30 H274.80 V393.50" fill="none" stroke="#000" stroke-width="1.7"/>
<polygon points="264.90,382.60 265.49,384.24 267.23,384.29 265.85,385.36 266.34,387.03 264.90,386.05 263.46,387.03 263.95,385.36 262.57,384.29 264.31,384.24" fill="#000"/>
<polygon points="270.30,382.60 270.89,384.24 272.63,384.29 271.25,385.36 271.74,387.03 270.30,386.05 268.86,387.03 269.35,385.36 267.97,384.29 269.71,384.24" fill="#000"/>
<polygon points="275.70,382.60 276.29,384.24 278.03,384.29 276.65,385.36 277.14,387.03 275.70,386.05 274.26,387.03 274.75,385.36 273.37,384.29 275.11,384.24" fill="#000"/>
<path d="M261.00 376.50 V373.30 H283.60 V376.50" fill="none" stroke="#000" stroke-width="1.7"/>
<polygon points="271.30,366.40 271.89,368.04 273.63,368.09 272.25,369.16 272.74,370.83 271.30,369.85 269.86,370.83 270.35,369.16 268.97,368.09 270.71,368.04" fill="#000"/>
<line x1="403.15" y1="396.42" x2="403.15" y2="399.40" stroke="#000" stroke-width="1.6"/>
<polygon points="401.15,395.92 405.15,395.92 403.95,398.22 402.35,398.22" fill="#000"/>
<rect x="399.20" y="399.40" width="7.90" height="59.00" fill="#000"/>
<line x1="415.55" y1="396.42" x2="415.55" y2="399.40" stroke="#000" stroke-width="1.6"/>
<polygon points="413.55,395.92 417.55,395.92 416.35,398.22 414.75,398.22" fill="#000"/>
<rect x="411.60" y="399.40" width="7.90" height="59.00" fill="#666"/>
<line x1="427.95" y1="397.01" x2="427.95" y2="398.80" stroke="#000" stroke-width="1.6"/>
<polygon points="425.95,396.51 429.95,396.51 428.75,398.81 427.15,398.81" fill="#000"/>
<rect x="424.00" y="398.80" width="7.90" height="59.60" fill="#d2d2d2"/>
<line x1="448.60" y1="393.44" x2="448.60" y2="396.71" stroke="#000" stroke-width="1.6"/>
<polygon points="446.60,392.94 450.60,392.94 449.40,395.24 447.80,395.24" fill="#000"/>
<rect x="444.65" y="396.71" width="7.90" height="61.69" fill="#000"/>
<line x1="461.00" y1="376.75" x2="461.00" y2="380.92" stroke="#000" stroke-width="1.6"/>
<polygon points="459.00,376.25 463.00,376.25 461.80,378.55 460.20,378.55" fill="#000"/>
<rect x="457.05" y="380.92" width="7.90" height="77.48" fill="#666"/>
<line x1="473.40" y1="409.23" x2="473.40" y2="411.02" stroke="#000" stroke-width="1.6"/>
<polygon points="471.40,408.73 475.40,408.73 474.20,411.03 472.60,411.03" fill="#000"/>
<rect x="469.45" y="411.02" width="7.90" height="47.38" fill="#d2d2d2"/>
<line x1="494.05" y1="371.38" x2="494.05" y2="374.96" stroke="#000" stroke-width="1.6"/>
<polygon points="492.05,370.88 496.05,370.88 494.85,373.18 493.25,373.18" fill="#000"/>
<rect x="490.10" y="374.96" width="7.90" height="83.44" fill="#000"/>
<line x1="506.45" y1="388.67" x2="506.45" y2="392.24" stroke="#000" stroke-width="1.6"/>
<polygon points="504.45,388.17 508.45,388.17 507.25,390.47 505.65,390.47" fill="#000"/>
<rect x="502.50" y="392.24" width="7.90" height="66.16" fill="#666"/>
<line x1="518.85" y1="426.81" x2="518.85" y2="428.60" stroke="#000" stroke-width="1.6"/>
<polygon points="516.85,426.31 520.85,426.31 519.65,428.61 518.05,428.61" fill="#000"/>
<rect x="514.90" y="428.60" width="7.90" height="29.80" fill="#d2d2d2"/>
<line x1="539.50" y1="380.92" x2="539.50" y2="385.69" stroke="#000" stroke-width="1.6"/>
<polygon points="537.50,380.42 541.50,380.42 540.30,382.72 538.70,382.72" fill="#000"/>
<rect x="535.55" y="385.69" width="7.90" height="72.71" fill="#000"/>
<line x1="551.90" y1="403.57" x2="551.90" y2="406.55" stroke="#000" stroke-width="1.6"/>
<polygon points="549.90,403.07 553.90,403.07 552.70,405.37 551.10,405.37" fill="#000"/>
<rect x="547.95" y="406.55" width="7.90" height="51.85" fill="#666"/>
<line x1="564.30" y1="436.94" x2="564.30" y2="438.73" stroke="#000" stroke-width="1.6"/>
<polygon points="562.30,436.44 566.30,436.44 565.10,438.74 563.50,438.74" fill="#000"/>
<rect x="560.35" y="438.73" width="7.90" height="19.67" fill="#d2d2d2"/>
<line x1="584.95" y1="389.86" x2="584.95" y2="394.33" stroke="#000" stroke-width="1.6"/>
<polygon points="582.95,389.36 586.95,389.36 585.75,391.66 584.15,391.66" fill="#000"/>
<rect x="581.00" y="394.33" width="7.90" height="64.07" fill="#000"/>
<line x1="597.35" y1="425.62" x2="597.35" y2="428.60" stroke="#000" stroke-width="1.6"/>
<polygon points="595.35,425.12 599.35,425.12 598.15,427.42 596.55,427.42" fill="#000"/>
<rect x="593.40" y="428.60" width="7.90" height="29.80" fill="#666"/>
<line x1="609.75" y1="416.08" x2="609.75" y2="419.66" stroke="#000" stroke-width="1.6"/>
<polygon points="607.75,415.58 611.75,415.58 610.55,417.88 608.95,417.88" fill="#000"/>
<rect x="605.80" y="419.66" width="7.90" height="38.74" fill="#d2d2d2"/>
<line x1="394.80" y1="308.60" x2="394.80" y2="459.40" stroke="#000" stroke-width="2"/>
<line x1="391.00" y1="458.40" x2="619.00" y2="458.40" stroke="#000" stroke-width="2"/>
<line x1="390.30" y1="458.40" x2="394.80" y2="458.40" stroke="#000" stroke-width="2"/>
<text x="389.30" y="462.70" font-family="Liberation Sans" font-size="12" font-weight="bold" text-anchor="end" fill="#000" >0.0</text>
<line x1="390.30" y1="428.60" x2="394.80" y2="428.60" stroke="#000" stroke-width="2"/>
<text x="389.30" y="432.90" font-family="Liberation Sans" font-size="12" font-weight="bold" text-anchor="end" fill="#000" >0.5</text>
<line x1="390.30" y1="398.80" x2="394.80" y2="398.80" stroke="#000" stroke-width="2"/>
<text x="389.30" y="403.10" font-family="Liberation Sans" font-size="12" font-weight="bold" text-anchor="end" fill="#000" >1.0</text>
<line x1="390.30" y1="369.00" x2="394.80" y2="369.00" stroke="#000" stroke-width="2"/>
<text x="389.30" y="373.30" font-family="Liberation Sans" font-size="12" font-weight="bold" text-anchor="end" fill="#000" >1.5</text>
<line x1="390.30" y1="339.20" x2="394.80" y2="339.20" stroke="#000" stroke-width="2"/>
<text x="389.30" y="343.50" font-family="Liberation Sans" font-size="12" font-weight="bold" text-anchor="end" fill="#000" >2.0</text>
<line x1="390.30" y1="309.40" x2="394.80" y2="309.40" stroke="#000" stroke-width="2"/>
<text x="389.30" y="313.70" font-family="Liberation Sans" font-size="12" font-weight="bold" text-anchor="end" fill="#000" >2.5</text>
<line x1="415.55" y1="458.40" x2="415.55" y2="462.70" stroke="#000" stroke-width="2"/>
<text x="418.65" y="472.60" font-family="Liberation Sans" font-size="11.3" font-weight="bold" text-anchor="end" fill="#000" stroke="#000" stroke-width="0.35" transform="rotate(-45 418.65 472.60)">0.0</text>
<line x1="461.00" y1="458.40" x2="461.00" y2="462.70" stroke="#000" stroke-width="2"/>
<text x="464.10" y="472.60" font-family="Liberation Sans" font-size="11.3" font-weight="bold" text-anchor="end" fill="#000" stroke="#000" stroke-width="0.35" transform="rotate(-45 464.10 472.60)">1.0</text>
<line x1="506.45" y1="458.40" x2="506.45" y2="462.70" stroke="#000" stroke-width="2"/>
<text x="509.55" y="472.60" font-family="Liberation Sans" font-size="11.3" font-weight="bold" text-anchor="end" fill="#000" stroke="#000" stroke-width="0.35" transform="rotate(-45 509.55 472.60)">2.0</text>
<line x1="551.90" y1="458.40" x2="551.90" y2="462.70" stroke="#000" stroke-width="2"/>
<text x="555.00" y="472.60" font-family="Liberation Sans" font-size="11.3" font-weight="bold" text-anchor="end" fill="#000" stroke="#000" stroke-width="0.35" transform="rotate(-45 555.00 472.60)">4.0</text>
<line x1="597.35" y1="458.40" x2="597.35" y2="462.70" stroke="#000" stroke-width="2"/>
<text x="600.45" y="472.60" font-family="Liberation Sans" font-size="11.3" font-weight="bold" text-anchor="end" fill="#000" stroke="#000" stroke-width="0.35" transform="rotate(-45 600.45 472.60)">6.0</text>
<rect x="581.80" y="275.90" width="15.90" height="7.20" fill="#000"/>
<text x="0.00" y="0.00" font-family="Liberation Serif" font-size="13.1" font-weight="normal" text-anchor="start" fill="#1a1a1a" stroke="#1a1a1a" stroke-width="0.25" transform="translate(606.00 283.00) scale(1 0.88)">1st generation</text>
<rect x="581.80" y="293.90" width="15.90" height="7.20" fill="#666"/>
<text x="0.00" y="0.00" font-family="Liberation Serif" font-size="13.1" font-weight="normal" text-anchor="start" fill="#1a1a1a" stroke="#1a1a1a" stroke-width="0.25" transform="translate(606.00 300.80) scale(1 0.88)">2nd generation</text>
<rect x="581.80" y="312.40" width="15.90" height="7.20" fill="#d2d2d2"/>
<text x="0.00" y="0.00" font-family="Liberation Serif" font-size="13.1" font-weight="normal" text-anchor="start" fill="#1a1a1a" stroke="#1a1a1a" stroke-width="0.25" transform="translate(606.00 319.00) scale(1 0.88)">3rd generation</text>
<text x="506.70" y="270.60" font-family="Liberation Serif" font-size="14.3" font-weight="bold" text-anchor="middle" fill="#000" >UM-SCC-47</text>
<text x="357.60" y="386.70" font-family="Liberation Serif" font-size="12.0" font-weight="bold" text-anchor="middle" fill="#000" transform="rotate(-90 357.60 386.70)" textLength="110" lengthAdjust="spacing">Metabolic Activity</text>
<text x="506.60" y="502.70" font-family="Liberation Serif" font-size="13.5" font-weight="bold" text-anchor="middle" fill="#000" >Dose (Gy)</text>
<path d="M448.00 323.80 V320.60 H473.50 V323.80" fill="none" stroke="#000" stroke-width="1.5"/>
<polygon points="458.20,313.90 458.79,315.44 460.43,315.52 459.15,316.56 459.58,318.15 458.20,317.25 456.82,318.15 457.25,316.56 455.97,315.52 457.61,315.44" fill="#000"/>
<polygon points="463.40,313.90 463.99,315.44 465.63,315.52 464.35,316.56 464.78,318.15 463.40,317.25 462.02,318.15 462.45,316.56 461.17,315.52 462.81,315.44" fill="#000"/>
<path d="M460.80 337.90 V334.70 H473.50 V337.90" fill="none" stroke="#000" stroke-width="1.5"/>
<polygon points="460.40,327.60 460.99,329.14 462.63,329.22 461.35,330.26 461.78,331.85 460.40,330.95 459.02,331.85 459.45,330.26 458.17,329.22 459.81,329.14" fill="#000"/>
<polygon points="465.60,327.60 466.19,329.14 467.83,329.22 466.55,330.26 466.98,331.85 465.60,330.95 464.22,331.85 464.65,330.26 463.37,329.22 465.01,329.14" fill="#000"/>
<polygon points="470.80,327.60 471.39,329.14 473.03,329.22 471.75,330.26 472.18,331.85 470.80,330.95 469.42,331.85 469.85,330.26 468.57,329.22 470.21,329.14" fill="#000"/>
<polygon points="476.00,327.60 476.59,329.14 478.23,329.22 476.95,330.26 477.38,331.85 476.00,330.95 474.62,331.85 475.05,330.26 473.77,329.22 475.41,329.14" fill="#000"/>
<path d="M448.00 347.90 V344.70 H461.50 V347.90" fill="none" stroke="#000" stroke-width="1.5"/>
<polygon points="449.50,338.90 450.09,340.44 451.73,340.52 450.45,341.56 450.88,343.15 449.50,342.25 448.12,343.15 448.55,341.56 447.27,340.52 448.91,340.44" fill="#000"/>
<polygon points="454.70,338.90 455.29,340.44 456.93,340.52 455.65,341.56 456.08,343.15 454.70,342.25 453.32,343.15 453.75,341.56 452.47,340.52 454.11,340.44" fill="#000"/>
<polygon points="459.90,338.90 460.49,340.44 462.13,340.52 460.85,341.56 461.28,343.15 459.90,342.25 458.52,343.15 458.95,341.56 457.67,340.52 459.31,340.44" fill="#000"/>
<path d="M493.40 329.10 V325.90 H519.30 V329.10" fill="none" stroke="#000" stroke-width="1.5"/>
<polygon points="499.40,319.20 499.99,320.74 501.63,320.82 500.35,321.86 500.78,323.45 499.40,322.55 498.02,323.45 498.45,321.86 497.17,320.82 498.81,320.74" fill="#000"/>
<polygon points="504.60,319.20 505.19,320.74 506.83,320.82 505.55,321.86 505.98,323.45 504.60,322.55 503.22,323.45 503.65,321.86 502.37,320.82 504.01,320.74" fill="#000"/>
<polygon points="509.80,319.20 510.39,320.74 512.03,320.82 510.75,321.86 511.18,323.45 509.80,322.55 508.42,323.45 508.85,321.86 507.57,320.82 509.21,320.74" fill="#000"/>
<polygon points="515.00,319.20 515.59,320.74 517.23,320.82 515.95,321.86 516.38,323.45 515.00,322.55 513.62,323.45 514.05,321.86 512.77,320.82 514.41,320.74" fill="#000"/>
<path d="M493.40 343.20 V340.00 H507.00 V343.20" fill="none" stroke="#000" stroke-width="1.5"/>
<polygon points="495.40,333.20 495.99,334.74 497.63,334.82 496.35,335.86 496.78,337.45 495.40,336.55 494.02,337.45 494.45,335.86 493.17,334.82 494.81,334.74" fill="#000"/>
<polygon points="500.60,333.20 501.19,334.74 502.83,334.82 501.55,335.86 501.98,337.45 500.60,336.55 499.22,337.45 499.65,335.86 498.37,334.82 500.01,334.74" fill="#000"/>
<polygon points="505.80,333.20 506.39,334.74 508.03,334.82 506.75,335.86 507.18,337.45 505.80,336.55 504.42,337.45 504.85,335.86 503.57,334.82 505.21,334.74" fill="#000"/>
<path d="M507.00 364.10 V360.90 H519.60 V364.10" fill="none" stroke="#000" stroke-width="1.5"/>
<polygon points="505.90,354.20 506.49,355.74 508.13,355.82 506.85,356.86 507.28,358.45 505.90,357.55 504.52,358.45 504.95,356.86 503.67,355.82 505.31,355.74" fill="#000"/>
<polygon points="511.10,354.20 511.69,355.74 513.33,355.82 512.05,356.86 512.48,358.45 511.10,357.55 509.72,358.45 510.15,356.86 508.87,355.82 510.51,355.74" fill="#000"/>
<polygon points="516.30,354.20 516.89,355.74 518.53,355.82 517.25,356.86 517.68,358.45 516.30,357.55 514.92,358.45 515.35,356.86 514.07,355.82 515.71,355.74" fill="#000"/>
<polygon points="521.50,354.20 522.09,355.74 523.73,355.82 522.45,356.86 522.88,358.45 521.50,357.55 520.12,358.45 520.55,356.86 519.27,355.82 520.91,355.74" fill="#000"/>
<path d="M538.80 339.80 V336.60 H564.60 V339.80" fill="none" stroke="#000" stroke-width="1.5"/>
<polygon points="544.70,329.10 545.29,330.64 546.93,330.72 545.65,331.76 546.08,333.35 544.70,332.45 543.32,333.35 543.75,331.76 542.47,330.72 544.11,330.64" fill="#000"/>
<polygon points="549.90,329.10 550.49,330.64 552.13,330.72 550.85,331.76 551.28,333.35 549.90,332.45 548.52,333.35 548.95,331.76 547.67,330.72 549.31,330.64" fill="#000"/>
<polygon points="555.10,329.10 555.69,330.64 557.33,330.72 556.05,331.76 556.48,333.35 555.10,332.45 553.72,333.35 554.15,331.76 552.87,330.72 554.51,330.64" fill="#000"/>
<polygon points="560.30,329.10 560.89,330.64 562.53,330.72 561.25,331.76 561.68,333.35 560.30,332.45 558.92,333.35 559.35,331.76 558.07,330.72 559.71,330.64" fill="#000"/>
<path d="M538.80 354.10 V350.90 H551.90 V354.10" fill="none" stroke="#000" stroke-width="1.5"/>
<polygon points="539.00,344.70 539.59,346.24 541.23,346.32 539.95,347.36 540.38,348.95 539.00,348.05 537.62,348.95 538.05,347.36 536.77,346.32 538.41,346.24" fill="#000"/>
<polygon points="544.20,344.70 544.79,346.24 546.43,346.32 545.15,347.36 545.58,348.95 544.20,348.05 542.82,348.95 543.25,347.36 541.97,346.32 543.61,346.24" fill="#000"/>
<polygon points="549.40,344.70 549.99,346.24 551.63,346.32 550.35,347.36 550.78,348.95 549.40,348.05 548.02,348.95 548.45,347.36 547.17,346.32 548.81,346.24" fill="#000"/>
<polygon points="554.60,344.70 555.19,346.24 556.83,346.32 555.55,347.36 555.98,348.95 554.60,348.05 553.22,348.95 553.65,347.36 552.37,346.32 554.01,346.24" fill="#000"/>
<path d="M552.50 380.00 V376.80 H564.60 V380.00" fill="none" stroke="#000" stroke-width="1.5"/>
<polygon points="551.90,369.60 552.49,371.14 554.13,371.22 552.85,372.26 553.28,373.85 551.90,372.95 550.52,373.85 550.95,372.26 549.67,371.22 551.31,371.14" fill="#000"/>
<polygon points="557.10,369.60 557.69,371.14 559.33,371.22 558.05,372.26 558.48,373.85 557.10,372.95 555.72,373.85 556.15,372.26 554.87,371.22 556.51,371.14" fill="#000"/>
<polygon points="562.30,369.60 562.89,371.14 564.53,371.22 563.25,372.26 563.68,373.85 562.30,372.95 560.92,373.85 561.35,372.26 560.07,371.22 561.71,371.14" fill="#000"/>
<polygon points="567.50,369.60 568.09,371.14 569.73,371.22 568.45,372.26 568.88,373.85 567.50,372.95 566.12,373.85 566.55,372.26 565.27,371.22 566.91,371.14" fill="#000"/>
<path d="M585.20 353.00 V349.80 H610.60 V353.00" fill="none" stroke="#000" stroke-width="1.5"/>
<polygon points="590.10,342.20 590.69,343.74 592.33,343.82 591.05,344.86 591.48,346.45 590.10,345.55 588.72,346.45 589.15,344.86 587.87,343.82 589.51,343.74" fill="#000"/>
<polygon points="595.30,342.20 595.89,343.74 597.53,343.82 596.25,344.86 596.68,346.45 595.30,345.55 593.92,346.45 594.35,344.86 593.07,343.82 594.71,343.74" fill="#000"/>
<polygon points="600.50,342.20 601.09,343.74 602.73,343.82 601.45,344.86 601.88,346.45 600.50,345.55 599.12,346.45 599.55,344.86 598.27,343.82 599.91,343.74" fill="#000"/>
<polygon points="605.70,342.20 606.29,343.74 607.93,343.82 606.65,344.86 607.08,346.45 605.70,345.55 604.32,346.45 604.75,344.86 603.47,343.82 605.11,343.74" fill="#000"/>
<path d="M585.20 367.20 V364.00 H597.30 V367.20" fill="none" stroke="#000" stroke-width="1.5"/>
<polygon points="583.20,356.30 583.79,357.84 585.43,357.92 584.15,358.96 584.58,360.55 583.20,359.65 581.82,360.55 582.25,358.96 580.97,357.92 582.61,357.84" fill="#000"/>
<polygon points="588.40,356.30 588.99,357.84 590.63,357.92 589.35,358.96 589.78,360.55 588.40,359.65 587.02,360.55 587.45,358.96 586.17,357.92 587.81,357.84" fill="#000"/>
<polygon points="593.60,356.30 594.19,357.84 595.83,357.92 594.55,358.96 594.98,360.55 593.60,359.65 592.22,360.55 592.65,358.96 591.37,357.92 593.01,357.84" fill="#000"/>
<polygon points="598.80,356.30 599.39,357.84 601.03,357.92 599.75,358.96 600.18,360.55 598.80,359.65 597.42,360.55 597.85,358.96 596.57,357.92 598.21,357.84" fill="#000"/>
</svg></body></html>
